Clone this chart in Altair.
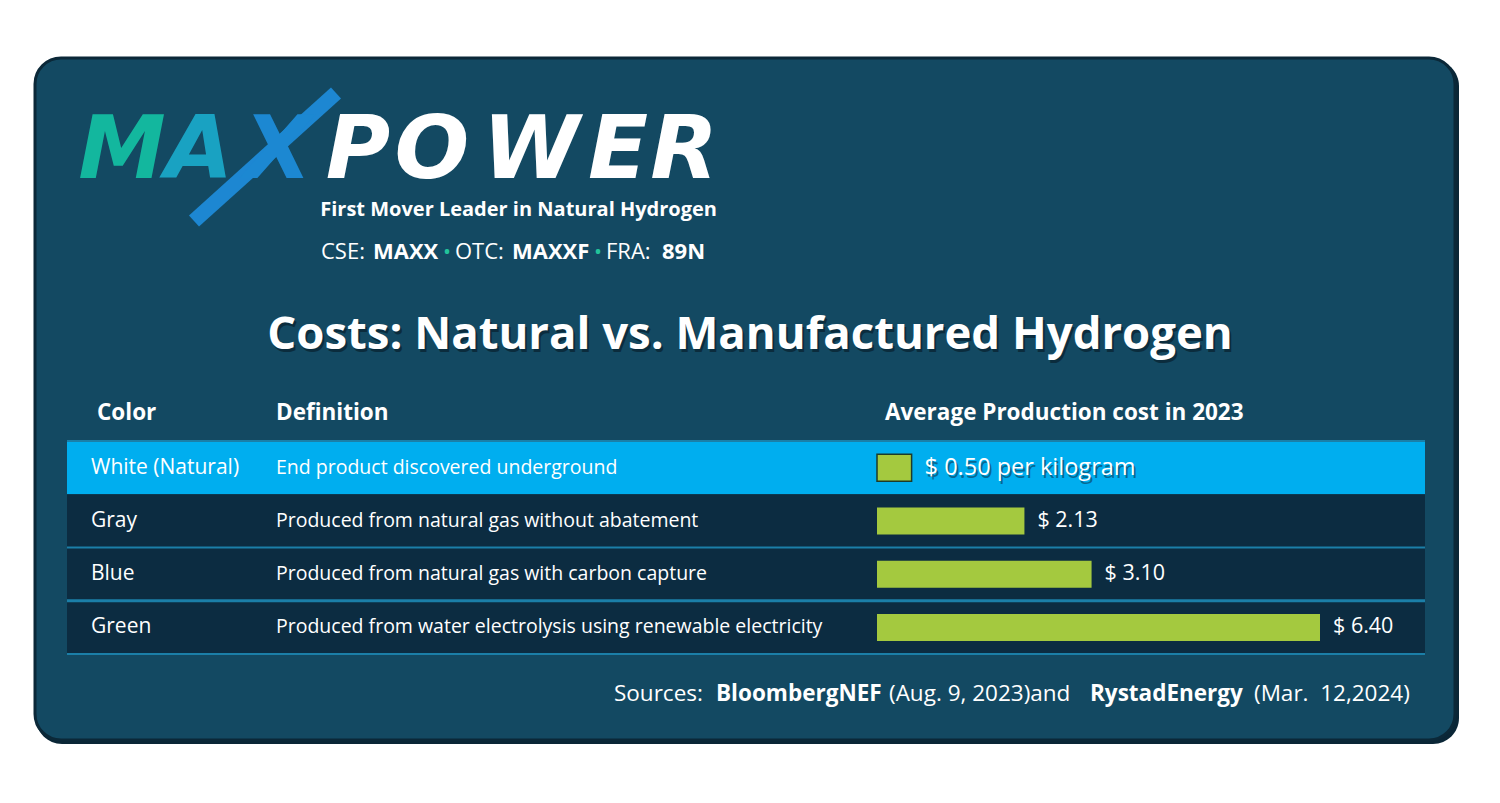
import altair as alt
import pandas as pd

# ---------------- data ----------------
categories = ["White (Natural)", "Gray", "Blue", "Green"]
definitions = [
    "End product discovered underground",
    "Produced from natural gas without abatement",
    "Produced from natural gas with carbon capture",
    "Produced from water electrolysis using renewable electricity",
]
costs = [0.50, 2.13, 3.10, 6.40]
cost_labels = ["$ 0.50 per kilogram", "$ 2.13", "$ 3.10", "$ 6.40"]

headers = ["Color", "Definition", "Average Production cost in 2023"]
title_text = "Costs: Natural vs. Manufactured Hydrogen"
tagline = "First Mover Leader in Natural Hydrogen"
logo_letters = ["M", "A", "X", "P", "O", "W", "E", "R"]
ticker_parts = ["CSE:", "MAXX", "•", "OTC:", "MAXXF", "•", "FRA:", "89N"]
source_parts = ["Sources:", "BloombergNEF", "(Aug. 9, 2023)and", "RystadEnergy", "(Mar.\u00a0 12,2024)"]

W, H = 1484, 787
OFF = 8  # page margin: image coords -> chart coords
FONT = "Open Sans"
LOGO_FONT = "DejaVu Sans"

PANEL = "#134962"
ROW_DARK = "#0c2c41"
HILITE = "#00aeef"
BAR = "#a4c93f"
SEP = "#1b7fa8"

df = pd.DataFrame({"cat": categories, "definition": definitions,
                   "cost": costs, "label": cost_labels})

yscale = alt.Scale(domain=categories, range=[433, 646], paddingInner=0, paddingOuter=0)
xscale = alt.Scale(domain=[0, 6.4], range=[869, 1312])
is_first = alt.datum.cat == categories[0]


def P(v):
    return alt.value(v - OFF)


def txt(s, x, y, size, weight="normal", color="white", align="left", style="normal",
        baseline="middle", opacity=1.0, font=FONT):
    return alt.Chart(pd.DataFrame({"t": [s]})).mark_text(
        align=align, baseline=baseline, font=font, fontSize=size,
        fontWeight=weight, fontStyle=style, color=color, opacity=opacity
    ).encode(x=P(x), y=P(y), text="t:N")


layers = []

# panel shadow + panel
layers.append(alt.Chart(pd.DataFrame({"a": [0]})).mark_rect(
    cornerRadius=26, fill="#0a2636").encode(x=P(36), x2=P(1459), y=P(60), y2=P(744)))
layers.append(alt.Chart(pd.DataFrame({"a": [0]})).mark_rect(
    cornerRadius=26, fill=PANEL, stroke="#0b2838", strokeWidth=3).encode(
    x=P(35), x2=P(1455), y=P(58), y2=P(740)))

# ---------------- logo ----------------
letter_x = [122, 199, 278, 358, 432, 531, 618, 684]
letter_col = ["#13b79e", "#19a2c2", "#1c88d2", "white", "white", "white", "white", "white"]
baseline_y = 178
# extended diagonal stroke of the X
layers.append(alt.Chart(pd.DataFrame({"a": [0]})).mark_rule(
    strokeWidth=15, color="#1d87d2", strokeCap="butt").encode(
    x=P(194), y=P(221), x2=P(336), y2=P(93)))
for l, x, c in zip(logo_letters, letter_x, letter_col):
    layers.append(txt(l, x, baseline_y, 88, weight="bold", color=c, align="center",
                      style="italic", baseline="alphabetic", font=LOGO_FONT))

layers.append(txt(tagline, 717, 210, 20, weight="bold", align="right"))

ticker_x = [321, 373, 444, 455, 512, 595, 606, 662]
ticker_w = ["normal", "bold", "bold", "normal", "bold", "bold", "normal", "bold"]
for s, x, w in zip(ticker_parts, ticker_x, ticker_w):
    col = "#22c39b" if s == "•" else "white"
    layers.append(txt(s, x, 252, 22 if s != "•" else 16, weight=w, color=col))

# ---------------- title ----------------
layers.append(txt(title_text, 752, 338, 45.5, weight="bold", color="#061a26",
                  align="center", opacity=0.6))
layers.append(txt(title_text, 750, 335, 45.5, weight="bold", align="center"))

# ---------------- table header ----------------
for s, x in zip(headers, [97, 276, 885]):
    layers.append(txt(s, x, 413, 22.5, weight="bold"))

# ---------------- rows ----------------
base = alt.Chart(df)
layers.append(base.mark_rect().encode(
    y=alt.Y("cat:N", scale=yscale, axis=None),
    x=P(67), x2=P(1425),
    color=alt.condition(is_first, alt.value(HILITE), alt.value(ROW_DARK)),
))

# separators
for yy, sw in [(441, 2), (547.5, 2), (600.75, 3), (654, 2)]:
    layers.append(alt.Chart(pd.DataFrame({"a": [0]})).mark_rule(
        color=SEP, strokeWidth=sw).encode(x=P(67), x2=P(1425), y=P(yy)))

layers.append(base.mark_text(align="left", baseline="middle", font=FONT, fontSize=21,
                             color="white").encode(
    y=alt.Y("cat:N", scale=yscale, axis=None), x=P(91), text="cat:N"))
layers.append(base.mark_text(align="left", baseline="middle", font=FONT, fontSize=19.5,
                             color="white").encode(
    y=alt.Y("cat:N", scale=yscale, axis=None), x=P(276), text="definition:N"))

# bars
layers.append(base.mark_bar(size=27, color=BAR).encode(
    y=alt.Y("cat:N", scale=yscale, axis=None),
    x=alt.X("cost:Q", scale=xscale, axis=None),
    stroke=alt.condition(is_first, alt.value("#1d3b2a"), alt.value(BAR)),
    strokeWidth=alt.condition(is_first, alt.value(1.5), alt.value(0)),
))

# value labels
layers.append(base.transform_filter(is_first).mark_text(
    align="left", baseline="middle", font=FONT, fontSize=23.5, color="#0a3a55",
    dx=15, dy=3, opacity=0.6).encode(
    y=alt.Y("cat:N", scale=yscale, axis=None),
    x=alt.X("cost:Q", scale=xscale, axis=None), text="label:N"))
layers.append(base.mark_text(align="left", baseline="middle", font=FONT,
                             color="white", dx=13).encode(
    y=alt.Y("cat:N", scale=yscale, axis=None),
    x=alt.X("cost:Q", scale=xscale, axis=None), text="label:N",
    size=alt.condition(is_first, alt.value(23.5), alt.value(21.5))))

# ---------------- sources ----------------
src_x = [614, 716, 889, 1090, 1254]
src_w = ["normal", "bold", "normal", "bold", "normal"]
for s, x, w in zip(source_parts, src_x, src_w):
    layers.append(txt(s, x, 694, 22.5, weight=w))

chart = alt.layer(*layers).properties(
    width=W, height=H, padding=0,
    autosize=alt.AutoSizeParams(type="none"),
    background="white",
).configure_view(stroke=None)

chart.save("out.html", embed_options={"renderer": "svg", "actions": False})
